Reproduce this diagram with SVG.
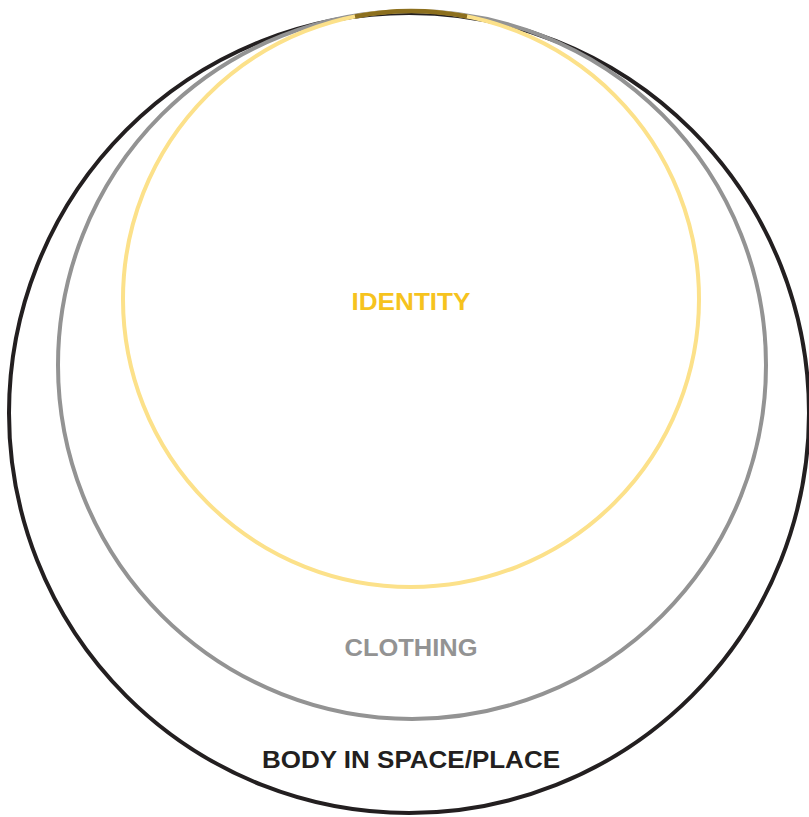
<svg xmlns="http://www.w3.org/2000/svg" width="809" height="817" viewBox="0 0 809 817">
<style>
.c{fill:none;stroke-width:4}
.t{font-family:"Liberation Sans",Arial,sans-serif;font-weight:bold;font-size:24px;text-anchor:middle}
</style>
<rect width="809" height="817" fill="#fff"/>
<g id="body">
<circle class="c" cx="409" cy="413" r="400" stroke="#231F20"/>
<text class="t" x="411" y="768" fill="#231F20" textLength="298" lengthAdjust="spacingAndGlyphs">BODY IN SPACE/PLACE</text>
</g>
<g id="clothing">
<circle class="c" cx="412" cy="365" r="354" stroke="#939393"/>
<text class="t" x="411" y="656" fill="#939393" textLength="133" lengthAdjust="spacingAndGlyphs">CLOTHING</text>
</g>
<g id="identity">
<circle class="c" cx="411" cy="299" r="288" stroke="#FCE18A"/>
<path d="M355 16.5 A288 288 0 0 1 467 16.5" fill="none" stroke="#8C6F1E" stroke-width="4.5"/>
<text class="t" x="411" y="310" fill="#F6C31E" textLength="119" lengthAdjust="spacingAndGlyphs">IDENTITY</text>
</g>
<g id="connectors"/>
</svg>
